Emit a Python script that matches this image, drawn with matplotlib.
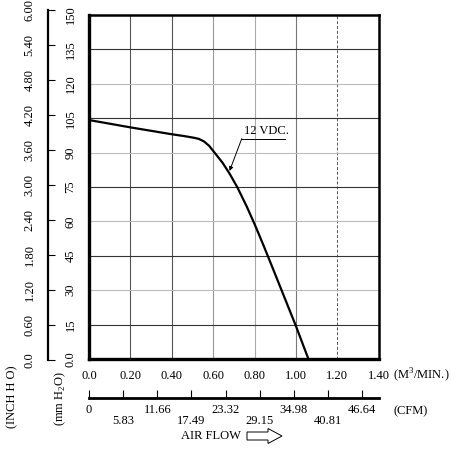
import matplotlib
matplotlib.use("Agg")
import matplotlib.pyplot as plt
from matplotlib.patches import FancyArrow
from matplotlib.ticker import NullLocator

plt.rcParams['font.family'] = ['Liberation Serif', 'DejaVu Serif']
plt.rcParams['font.size'] = 9
plt.rcParams['mathtext.fontset'] = 'custom'
plt.rcParams['mathtext.rm'] = 'Liberation Serif'

# fan curve, 12 VDC (air flow in M3/MIN, static pressure in mm H2O)
flow = [0.00, 0.10, 0.20, 0.30, 0.40, 0.46, 0.505, 0.53, 0.555, 0.58,
        0.609, 0.645, 0.678, 0.717, 0.762, 0.80, 0.84, 0.88, 0.92,
        0.96, 1.00, 1.06]
pressure = [104.2, 102.6, 101.0, 99.5, 98.0, 97.2, 96.5, 96.0, 94.9, 93.0,
            89.7, 85.6, 81.0, 74.8, 66.5, 58.8, 50.2, 41.3, 32.3,
            23.3, 14.3, 0.0]

flow_ticks = [0.0, 0.2, 0.4, 0.6, 0.8, 1.0, 1.2, 1.4]
flow_labels = ['0.0', '0.20', '0.40', '0.60', '0.80', '1.00', '1.20', '1.40']
mm_ticks = [0, 15, 30, 45, 60, 75, 90, 105, 120, 135, 150]
mm_labels = ['0.0', '15', '30', '45', '60', '75', '90', '105', '120', '135', '150']
inch_ticks = [0.0, 0.6, 1.2, 1.8, 2.4, 3.0, 3.6, 4.2, 4.8, 5.4, 6.0]
inch_labels = ['0.0', '0.60', '1.20', '1.80', '2.40', '3.00', '3.60', '4.20',
               '4.80', '5.40', '6.00']
cfm_major = [0, 11.66, 23.32, 34.98, 46.64]
cfm_major_labels = ['0', '11.66', '23.32', '34.98', '46.64']
cfm_minor = [5.83, 17.49, 29.15, 40.81]
cfm_minor_labels = ['5.83', '17.49', '29.15', '40.81']
CFM_PER_M3 = 35.33

curve_label = '12 VDC.'
label_point = (0.679, 82.0)   # where the leader line touches the curve
label_anchor = (0.738, 96.1)  # start of the underline below the text
label_end = 0.947

W, H = 451, 450


def fx(px):
    return px / W


def fy(py):
    return 1 - py / H


fig = plt.figure(figsize=(W / 100, H / 100), dpi=100)

ax = fig.add_axes([fx(89), fy(359), (378.8 - 89) / W, (359 - 15) / H])
ax.set_xlim(0, 1.4)
ax.set_ylim(0, 150)

# grid lines, alternating shades like the original sheet
vgrid_colors = ['#555555', '#555555', '#999999', '#aaaaaa', '#777777']
for x, c in zip(flow_ticks[1:-2], vgrid_colors):
    ax.axvline(x, color=c, lw=0.8, zorder=1)
ax.axvline(flow_ticks[-2], color='#555555', lw=0.7, ls=(0, (3, 2)), zorder=1)
for i, y in enumerate(mm_ticks[1:-1]):
    c = '#333333' if i % 2 == 0 else '#bbbbbb'
    ax.axhline(y, color=c, lw=0.8, zorder=1)

ax.plot(flow, pressure, color='black', lw=1.6, zorder=3,
        solid_joinstyle='round')

# curve label with underline and leader arrow
ax.text(label_anchor[0] + 0.012, label_anchor[1] + 0.8, curve_label,
        ha='left', va='bottom')
ax.plot([label_anchor[0], label_end], [label_anchor[1], label_anchor[1]],
        color='black', lw=0.7)
ax.annotate('', xy=label_point, xytext=label_anchor,
            arrowprops=dict(arrowstyle='-|>', color='black', lw=0.7,
                            mutation_scale=6, shrinkA=0, shrinkB=0))

ax.set_xticks(flow_ticks, labels=flow_labels)
ax.set_yticks(mm_ticks, labels=mm_labels, rotation=90, va='center')
ax.tick_params(axis='both', length=0)
ax.tick_params(axis='x', pad=8)
ax.tick_params(axis='y', pad=9)
for side in ['left', 'bottom']:
    ax.spines[side].set_linewidth(2.4)
for side in ['top', 'right']:
    ax.spines[side].set_linewidth(1.8)

# CFM scale below the plot
sec = ax.secondary_xaxis(-0.1134, functions=(lambda m: m * CFM_PER_M3,
                                             lambda c: c / CFM_PER_M3))
sec.set_xticks(cfm_major, labels=cfm_major_labels)
sec.set_xticks(cfm_minor, labels=cfm_minor_labels, minor=True)
sec.tick_params(which='both', direction='in', length=6, width=0.8)
sec.tick_params(which='major', pad=4)
sec.tick_params(which='minor', pad=12)
sec.spines['bottom'].set_linewidth(2.0)

# inch H2O scale on the far left
axi = fig.add_axes([fx(48), fy(360), 0.001, (360 - 10) / H])
axi.set_ylim(0, 6)
axi.patch.set_visible(False)
for side in ['top', 'right', 'bottom']:
    axi.spines[side].set_visible(False)
axi.spines['left'].set_linewidth(1.6)
axi.xaxis.set_major_locator(NullLocator())
axi.set_yticks(inch_ticks, labels=inch_labels, rotation=90, va='center')
axi.tick_params(axis='y', direction='in', length=5, width=0.8, pad=9)

# axis captions
fig.text(fx(12), fy(397), '(INCH H O)', rotation=90, ha='center', va='center')
fig.text(fx(60), fy(398), r'(mm H$_2$O)', rotation=90, ha='center', va='center')
fig.text(fx(393), fy(375), r'(M$^3$/MIN.)', ha='left', va='center')
fig.text(fx(411), fy(411), '(CFM)', ha='center', va='center')
fig.text(fx(211), fy(436), 'AIR FLOW', ha='center', va='center')
fig.patches.append(FancyArrow(fx(247), fy(436), fx(282) - fx(247), 0,
                              width=8 / H, head_width=15 / H,
                              head_length=14 / W, length_includes_head=True,
                              facecolor='white', edgecolor='black', lw=0.7,
                              transform=fig.transFigure, figure=fig))

fig.savefig('out.png', dpi=100)
